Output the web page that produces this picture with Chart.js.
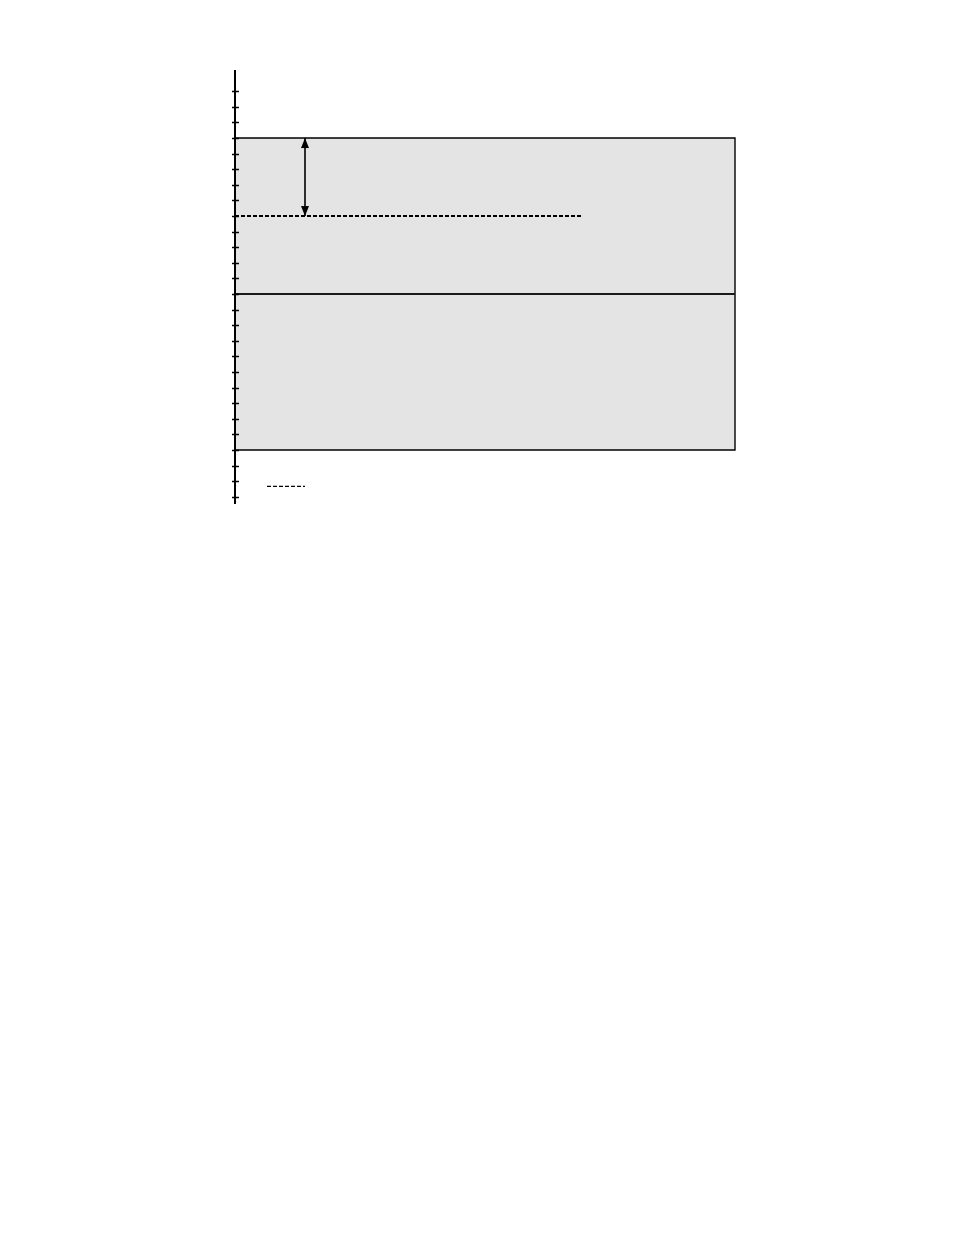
<!DOCTYPE html>
<html>
<head>
<meta charset="utf-8">
<title>Chart</title>
<script src="https://cdn.jsdelivr.net/npm/chart.js@4/dist/chart.umd.min.js"></script>
<style>
  html, body { margin: 0; padding: 0; background: #fff; overflow: hidden; }
  #wrap { position: absolute; left: 0; top: 0; width: 954px; height: 1235px; }
</style>
</head>
<body>
<div id="wrap"><canvas id="chart" width="954" height="1235"></canvas></div>
<script>
// value ranges of the two scales
const xRange = [0, 100];
const yRange = [-13.46, 14.36];

// tick marks on the vertical axis
const tickValues = [-13, -12, -11, -10, -9, -8, -7, -6, -5, -4, -3, -2, -1, 0,
  1, 2, 3, 4, 5, 6, 7, 8, 9, 10, 11, 12, 13];

// shaded band
const bandX = [0, 100];
const bandLimits = [-10, 10];

// solid reference line
const baseX = [0, 100];
const baseY = 0;

// dotted level line
const levelX = [0, 69.2];
const levelY = 5;

// double arrow between level line and band top
const arrowX = 14;
const arrowY = [5, 10];

// legend sample line
const legendX = [6.4, 14];
const legendY = -12.33;

// arrowhead images with the tip at the centre, so the tip sits on the point
function arrowHead(dir) {
  const c = document.createElement('canvas');
  c.width = 22; c.height = 22;
  const g = c.getContext('2d');
  g.fillStyle = '#000';
  g.beginPath();
  if (dir === 'up') {
    g.moveTo(11, 11); g.lineTo(7, 21); g.lineTo(15, 21);
  } else {
    g.moveTo(11, 11); g.lineTo(7, 1); g.lineTo(15, 1);
  }
  g.closePath();
  g.fill();
  return c;
}

// little ticks that cross the y axis line
const crossTicks = {
  id: 'crossTicks',
  afterDatasetsDraw(chart) {
    const { ctx, chartArea, scales } = chart;
    ctx.save();
    ctx.strokeStyle = '#000';
    ctx.lineWidth = 1.5;
    tickValues.forEach((v) => {
      const y = Math.round(scales.y.getPixelForValue(v)) + 0.5;
      ctx.beginPath();
      ctx.moveTo(chartArea.left - 3, y);
      ctx.lineTo(chartArea.left + 4, y);
      ctx.stroke();
    });
    ctx.restore();
  }
};

const line = (pts, extra) => Object.assign({
  data: pts,
  borderColor: '#000',
  borderWidth: 1,
  pointRadius: 0,
  tension: 0,
  fill: false,
  clip: false
}, extra);

new Chart(document.getElementById('chart'), {
  type: 'line',
  data: {
    datasets: [
      // y axis line
      line([{ x: xRange[0], y: yRange[0] }, { x: xRange[0], y: yRange[1] }], { borderWidth: 2 }),
      // arrow
      line([{ x: arrowX, y: arrowY[0] }, { x: arrowX, y: arrowY[1] }], {
        borderWidth: 1.6,
        pointRadius: 11,
        pointStyle: [arrowHead('down'), arrowHead('up')]
      }),
      // dotted level line
      line([{ x: levelX[0], y: levelY }, { x: levelX[1], y: levelY }], {
        borderWidth: 2.2, borderDash: [4, 2]
      }),
      // legend sample
      line([{ x: legendX[0], y: legendY }, { x: legendX[1], y: legendY }], {
        borderWidth: 1.2, borderDash: [4, 2]
      }),
      // solid reference line
      line([{ x: baseX[0], y: baseY }, { x: baseX[1], y: baseY }], {
        borderWidth: 2.2, borderColor: '#1a1a1a'
      }),
      // band outline
      line([
        { x: bandX[0], y: bandLimits[1] }, { x: bandX[1], y: bandLimits[1] },
        { x: bandX[1], y: bandLimits[0] }, { x: bandX[0], y: bandLimits[0] }
      ], { borderWidth: 1.4 }),
      // band fill
      line([{ x: bandX[0], y: bandLimits[1] }, { x: bandX[1], y: bandLimits[1] }], {
        borderWidth: 0,
        backgroundColor: '#e4e4e4',
        fill: { value: bandLimits[0] }
      })
    ]
  },
  options: {
    responsive: false,
    animation: false,
    devicePixelRatio: 1,
    layout: { padding: { left: 235, right: 219, top: 70, bottom: 731 } },
    scales: {
      x: { type: 'linear', min: xRange[0], max: xRange[1], display: false },
      y: { type: 'linear', min: yRange[0], max: yRange[1], display: false }
    },
    plugins: {
      legend: { display: false },
      tooltip: { enabled: false }
    }
  },
  plugins: [crossTicks]
});
</script>
</body>
</html>
